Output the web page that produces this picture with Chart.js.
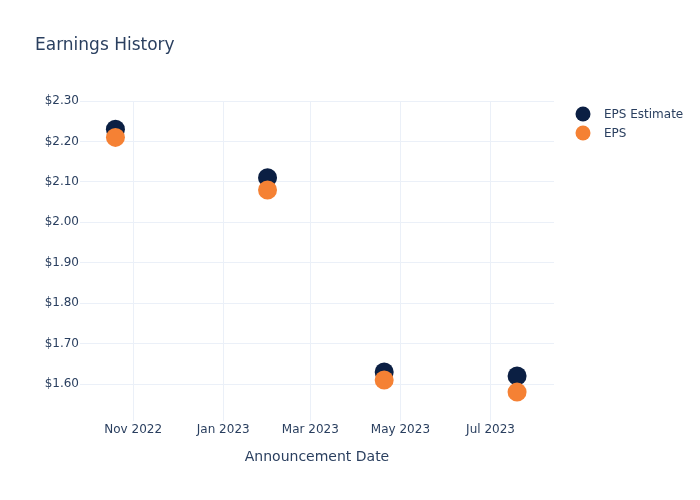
<!DOCTYPE html>
<html>
<head>
<meta charset="utf-8">
<script src="https://cdn.jsdelivr.net/npm/chart.js@4"></script>
<style>
html,body{margin:0;padding:0;background:#fff;}
#wrap{width:700px;height:500px;position:relative;}
</style>
</head>
<body>
<div id="wrap"><canvas id="c" width="700" height="500"></canvas></div>
<script>
// ---- data ----
const announcementDates = ['2022-10-20', '2023-01-31', '2023-04-20', '2023-07-19'];
const epsEstimate = [2.23, 2.11, 1.63, 1.62];
const epsActual = [2.21, 2.08, 1.61, 1.58];
const xTickDates = ['2022-11-01', '2023-01-01', '2023-03-01', '2023-05-01', '2023-07-01'];
const yTickValues = [1.6, 1.7, 1.8, 1.9, 2.0, 2.1, 2.2, 2.3];
const seriesNames = ['EPS Estimate', 'EPS'];
const seriesColors = ['#0b1f43', '#f58134'];

const toTs = s => { const [y, m, d] = s.split('-').map(Number); return Date.UTC(y, m - 1, d); };
const monthNames = ['Jan','Feb','Mar','Apr','May','Jun','Jul','Aug','Sep','Oct','Nov','Dec'];
const FONT = '"DejaVu Sans", Verdana, sans-serif';
const TXT = '#2a3f5f';
const GRID = '#ebf0f8';

const legendPlugin = {
  id: 'customLegend',
  afterDraw(chart) {
    const ctx = chart.ctx;
    ctx.save();
    // title
    ctx.font = '17px ' + FONT;
    ctx.fillStyle = TXT;
    ctx.textBaseline = 'middle';
    ctx.textAlign = 'left';
    ctx.fillText('Earnings History', 35, 46);
    // legend
    ctx.font = '12px ' + FONT;
    seriesNames.forEach((n, i) => {
      const y = 114 + i * 19;
      ctx.beginPath();
      ctx.arc(583, y, 7.5, 0, Math.PI * 2);
      ctx.fillStyle = seriesColors[i];
      ctx.fill();
      ctx.fillStyle = TXT;
      ctx.fillText(n, 604, y + 0.5);
    });
    ctx.restore();
  }
};

new Chart(document.getElementById('c'), {
  type: 'scatter',
  data: {
    datasets: [
      {
        label: seriesNames[0],
        data: announcementDates.map((d, i) => ({ x: toTs(d), y: epsEstimate[i] })),
        backgroundColor: seriesColors[0],
        borderColor: seriesColors[0],
        pointRadius: 9.5,
        pointHoverRadius: 9.5,
        borderWidth: 0,
        order: 2
      },
      {
        label: seriesNames[1],
        data: announcementDates.map((d, i) => ({ x: toTs(d), y: epsActual[i] })),
        backgroundColor: seriesColors[1],
        borderColor: seriesColors[1],
        pointRadius: 9.5,
        pointHoverRadius: 9.5,
        borderWidth: 0,
        order: 1
      }
    ]
  },
  options: {
    responsive: false,
    animation: false,
    layout: { padding: { left: 0, right: 146, top: 101, bottom: 0 } },
    plugins: {
      legend: { display: false },
      title: { display: false },
      tooltip: { enabled: false }
    },
    scales: {
      x: {
        type: 'linear',
        min: toTs('2022-09-26'),
        max: toTs('2023-08-13'),
        afterBuildTicks: s => { s.ticks = xTickDates.map(d => ({ value: toTs(d) })); },
        afterFit: s => { s.height = 79; },
        border: { display: false },
        grid: { color: GRID, lineWidth: 1, drawTicks: false },
        ticks: {
          color: TXT,
          font: { family: FONT, size: 12 },
          padding: 2,
          maxRotation: 0,
          autoSkip: false,
          callback: v => { const d = new Date(v); return monthNames[d.getUTCMonth()] + ' ' + d.getUTCFullYear(); }
        },
        title: {
          display: true,
          text: 'Announcement Date',
          color: TXT,
          font: { family: FONT, size: 14 },
          padding: { top: 0, bottom: 34 }
        }
      },
      y: {
        type: 'linear',
        min: 1.5085,
        max: 2.30,
        afterBuildTicks: s => { s.ticks = yTickValues.map(v => ({ value: v })); },
        afterFit: s => { s.width = 80; },
        border: { display: false },
        grid: { color: GRID, lineWidth: 1, drawTicks: false },
        ticks: {
          color: TXT,
          font: { family: FONT, size: 12 },
          padding: 1,
          callback: v => '$' + Number(v).toFixed(2)
        }
      }
    }
  },
  plugins: [legendPlugin]
});
</script>
</body>
</html>
